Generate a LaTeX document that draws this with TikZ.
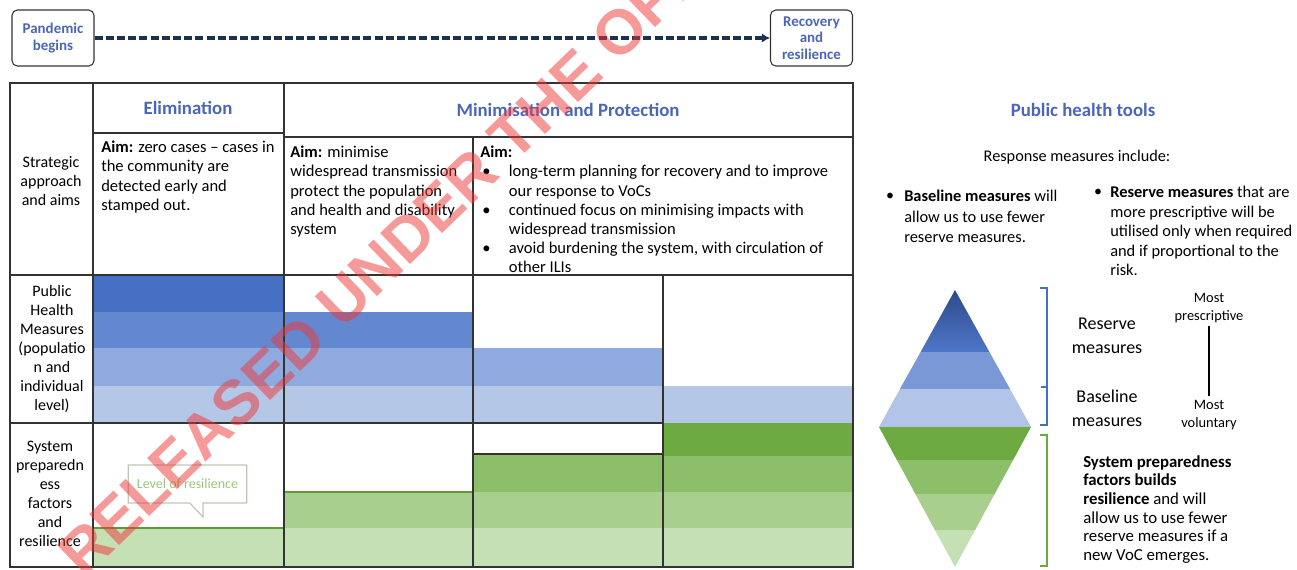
\documentclass[tikz,border=0pt]{standalone}
\usepackage{fontspec}
\setmainfont{Carlito}
\newfontfamily\wmfont{Liberation Sans}
\usetikzlibrary{shapes.callouts,arrows.meta}

\definecolor{hdrblue}{HTML}{4A66BA}
\definecolor{bA}{HTML}{4670C4}
\definecolor{bB}{HTML}{6488D0}
\definecolor{bC}{HTML}{8EAADE}
\definecolor{bD}{HTML}{B4C7E7}
\definecolor{gA}{HTML}{6DAB42}
\definecolor{gB}{HTML}{8DBF6A}
\definecolor{gC}{HTML}{A9CF8E}
\definecolor{gD}{HTML}{C6E0B5}
\definecolor{gline}{HTML}{5A9E32}
\definecolor{navy}{HTML}{1F2F4F}
\definecolor{gridc}{HTML}{333333}
\definecolor{wmred}{HTML}{EE3535}
\definecolor{calloutc}{HTML}{BFC8B4}
\definecolor{callouttext}{HTML}{9CC77E}
\definecolor{tipdark}{HTML}{2D4B8C}
\definecolor{tipmid}{HTML}{4E76C8}
\definecolor{dmid}{HTML}{7A98D6}
\definecolor{dlight}{HTML}{B2C5E8}

\tikzset{
  phase/.style={draw=gridc, line width=0.8pt, rounded corners=4pt, fill=white,
    minimum width=61.5pt, minimum height=42pt, align=center, text=hdrblue,
    font=\bfseries\fontsize{11.2}{12.4}\selectfont, inner sep=1pt},
  grid/.style={draw=gridc, line width=0.9pt},
  hdr/.style={text=hdrblue, font=\bfseries\fontsize{14.1}{16}\selectfont, inner sep=0pt},
  rowlab/.style={align=center, font=\fontsize{12}{14.2}\selectfont, inner sep=0pt},
  body/.style={align=left, anchor=north west, font=\fontsize{12.4}{14.3}\selectfont, inner sep=0pt},
  rbody/.style={align=left, anchor=north west, font=\fontsize{12.3}{15.2}\selectfont, inner sep=0pt},
  biglab/.style={align=center, font=\fontsize{13.5}{18}\selectfont, inner sep=0pt},
  smalllab/.style={align=center, font=\fontsize{10.8}{12.8}\selectfont, inner sep=0pt},
  bracketblue/.style={draw=bA, line width=1pt},
  bracketgreen/.style={draw=gA, line width=1pt},
}

\begin{document}
\begin{tikzpicture}[x=0.75pt, y=-0.75pt]
\fill[white] (0,0) rectangle (1297,569);
\useasboundingbox (0,0) rectangle (1297,569);

% ---- timeline ----
\node[phase] (start) at (53,38) {Pandemic\\begins};
\node[phase] (finish) at (811.5,38) {Recovery\\and\\resilience};
\draw[navy, line width=3pt, dash pattern=on 6pt off 2.4pt,
      -{Latex[length=6pt,width=7pt]}] (start) -- (finish);

% ---- public health measure bands ----
\fill[bA] (93,275) rectangle (284,312);
\fill[bB] (93,312) rectangle (284,348);
\fill[bC] (93,348) rectangle (284,386);
\fill[bD] (93,386) rectangle (284,423);
\fill[bB] (284,312) rectangle (473,348);
\fill[bC] (284,348) rectangle (473,386);
\fill[bD] (284,386) rectangle (473,423);
\fill[bC] (473,348) rectangle (663,386);
\fill[bD] (473,386) rectangle (663,423);
\fill[bD] (663,386) rectangle (853,423);

% ---- resilience bands ----
\fill[gA] (663,423) rectangle (853,456);
\fill[gB] (663,456) rectangle (853,492);
\fill[gC] (663,492) rectangle (853,528);
\fill[gD] (663,528) rectangle (853,567);
\fill[gB] (473,454) rectangle (663,492);
\fill[gC] (473,492) rectangle (663,528);
\fill[gD] (473,528) rectangle (663,567);
\fill[gC] (284,492) rectangle (473,528);
\fill[gD] (284,528) rectangle (473,567);
\fill[gD] (93,528) rectangle (284,567);
\draw[gline, line width=1.6pt] (93,528) -- (284,528);
\draw[gline, line width=1.6pt] (284,492) -- (473,492);
\draw[grid] (473,454) -- (663,454);

% ---- table grid ----
\draw[grid] (10,83) rectangle (853,567);
\draw[grid] (93,83) -- (93,567);
\draw[grid] (284,83) -- (284,567);
\draw[grid] (93,133) -- (284,133);
\draw[grid] (284,137) -- (853,137);
\draw[grid] (473,137) -- (473,567);
\draw[grid] (663,275) -- (663,567);
\draw[grid] (10,275) -- (853,275);
\draw[grid] (10,423) -- (663,423);

% ---- headers ----
\node[hdr] (elim) at (188,108) {Elimination};
\node[hdr] (minprot) at (568,110) {Minimisation and Protection};

% ---- row labels ----
\node[rowlab] (rowaims) at (51,181) {Strategic\\approach\\and aims};
\node[rowlab] (rowphm) at (52,349) {Public\\Health\\Measures\\(populatio\\n and\\individual\\level)};
\node[rowlab] (rowsys) at (50,494) {System\\preparedn\\ess\\factors\\and\\resilience};

% ---- aims ----
\node[body] (aimelim) at (101,141) {\textbf{Aim:} zero cases -- cases in\\the community are\\detected early and\\stamped out.};
\node[body] (aimmin) at (290,146) {\textbf{Aim:} minimise\\widespread transmission\\protect the population\\and health and disability\\system};
\node[body] (aimprot) at (480,146) {\textbf{Aim:}\\
  \hspace*{1.5pt}\rlap{\textbullet}\hspace*{20pt}long-term planning for recovery and to improve\\
  \hspace*{21.5pt}our response to VoCs\\
  \hspace*{1.5pt}\rlap{\textbullet}\hspace*{20pt}continued focus on minimising impacts with\\
  \hspace*{21.5pt}widespread transmission\\
  \hspace*{1.5pt}\rlap{\textbullet}\hspace*{20pt}avoid burdening the system, with circulation of\\
  \hspace*{21.5pt}other ILIs};

% ---- resilience callout ----
\node[rectangle callout, draw=calloutc, fill=white,
      line width=0.9pt, minimum width=89pt, minimum height=28.5pt,
      callout absolute pointer={(203,517)}, callout pointer width=10pt,
      text=callouttext, font=\fontsize{10.5}{12}\selectfont] (resil) at (187.5,484) {Level of resilience};

% ---- public health tools panel ----
\node[hdr] (pht) at (1083,110) {Public health tools};
\node[font=\fontsize{12.2}{14}\selectfont, inner sep=0pt] (resp) at (1077,157) {Response measures include:};
\node[font=\fontsize{12}{14}\selectfont, inner sep=0pt] (dotbase) at (890,197) {\textbullet};
\node[rbody] (basetxt) at (904,190) {\textbf{Baseline measures} will\\allow us to use fewer\\reserve measures.};
\node[font=\fontsize{12}{14}\selectfont, inner sep=0pt] (dotres) at (1098,193) {\textbullet};
\node[rbody, font=\fontsize{12.3}{14.6}\selectfont] (restxt) at (1110,186) {\textbf{Reserve measures} that are\\more prescriptive will be\\utilised only when required\\and if proportional to the\\risk.};

% ---- diamond: upper (measures) ----
\shade[top color=tipdark, bottom color=tipmid]
  (955,290) -- (989.4,352) -- (920.6,352) -- cycle;
\fill[dmid] (920.6,352) -- (989.4,352) -- (1010.1,389) -- (899.9,389) -- cycle;
\fill[dlight] (899.9,389) -- (1010.1,389) -- (1031,427) -- (879,427) -- cycle;
% ---- diamond: lower (preparedness) ----
\fill[gA] (879,427) -- (1031,427) -- (1013.1,460) -- (896.9,460) -- cycle;
\fill[gB] (896.9,460) -- (1013.1,460) -- (994.6,494) -- (915.4,494) -- cycle;
\fill[gC] (915.4,494) -- (994.6,494) -- (975.1,530) -- (934.9,530) -- cycle;
\fill[gD] (934.9,530) -- (975.1,530) -- (955,567) -- cycle;

% ---- brackets ----
\draw[bracketblue] (1040,288) -- (1047,288) -- (1047,425) -- (1040,425);
\draw[bracketblue] (1047,387) -- (1041,387);
\draw[bracketgreen] (1040,435) -- (1047,435) -- (1047,566) -- (1040,566);

% ---- scale labels ----
\node[biglab] (reslab) at (1107,336) {Reserve\\measures};
\node[biglab] (baselab) at (1107,408) {Baseline\\measures};
\node[smalllab] (mostp) at (1209,308) {Most\\prescriptive};
\node[smalllab] (mostv) at (1209,415) {Most\\voluntary};
\draw[line width=2.2pt] ([yshift=-2.5pt]mostp.south) -- ([yshift=3pt]mostv.north);

\node[rbody, font=\fontsize{12.6}{14}\selectfont] (systxt) at (1083,455)
  {\textbf{System preparedness}\\\textbf{factors builds}\\\textbf{resilience} and will\\allow us to use fewer\\reserve measures if a\\new VoC emerges.};

% ---- release stamp ----
\begin{scope}
\clip (0,0) rectangle (1297,569);
\node[rotate=44, anchor=base west, inner sep=0pt, text=wmred, text opacity=0.5,
      font=\wmfont\bfseries\fontsize{47}{47}\selectfont] (stamp) at (84,580)
  {RELEASED UNDER THE OFFICIAL INFORMATION ACT};
\end{scope}
\end{tikzpicture}
\end{document}
